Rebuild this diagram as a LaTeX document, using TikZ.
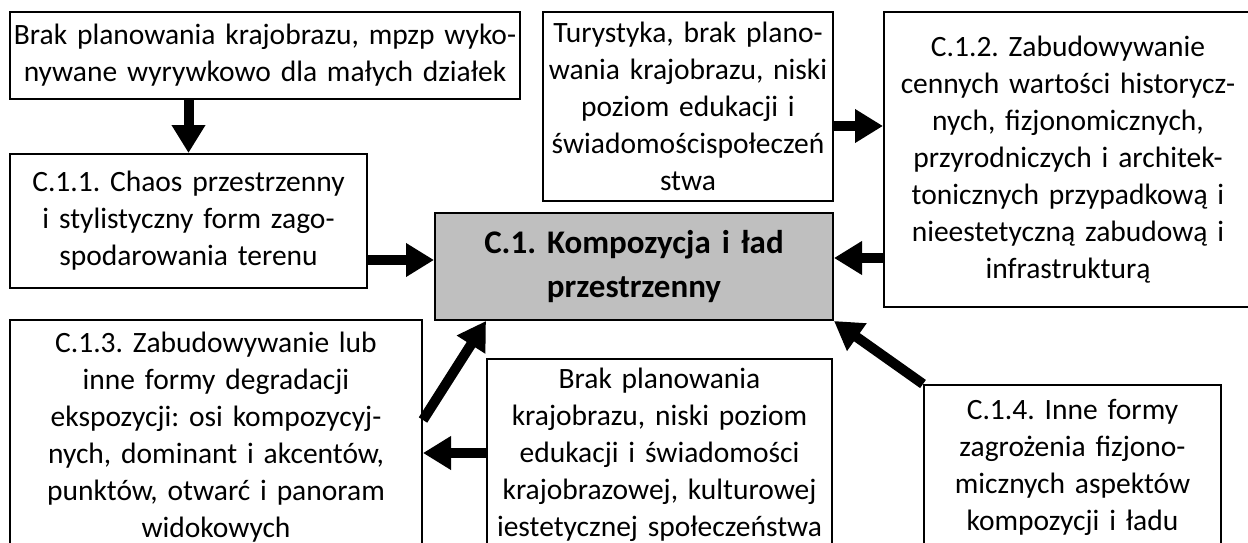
\documentclass[tikz,border=0pt]{standalone}
\usepackage{fontspec}
\setmainfont{Carlito}
\frenchspacing
\usetikzlibrary{arrows.meta}
\begin{document}
\begin{tikzpicture}[x=1pt,y=-1pt]
	\useasboundingbox (0,0) rectangle (1248,543);
	\tikzstyle{boite}=[draw,line width=2pt,inner sep=0pt,align=center,
		font=\fontsize{29.5}{37}\selectfont]
	\tikzstyle{fleche}=[-{Triangle[width=32pt,length=28pt]},line width=10pt]

	\node[boite,minimum width=510pt,minimum height=87pt,text width=508pt] (B) at (265,55.5)
		{Brak planowania krajobrazu, mpzp wyko-\\nywane wyrywkowo dla małych działek};
	\node[boite,minimum width=357pt,minimum height=134pt,text width=350pt] (C11) at (188.5,221)
		{C.1.1. Chaos przestrzenny\\i stylistyczny form zago-\\spodarowania terenu};
	\node[boite,minimum width=290pt,minimum height=189pt,text width=286pt] (T) at (688,106.5)
		{Turystyka, brak plano-\\wania krajobrazu, niski\\poziom edukacji i\\świadomościspołeczeń\\stwa};
	\node[boite,minimum width=368pt,minimum height=295pt,text width=364pt] (C12) at (1068,159.5)
		{C.1.2. Zabudowywanie\\cennych wartości historycz-\\nych, fizjonomicznych,\\przyrodniczych i architek-\\tonicznych przypadkową i\\nieestetyczną zabudową i\\infrastrukturą};
	\node[boite,fill=black!25,minimum width=398pt,minimum height=107pt,text width=390pt,
		font=\fontsize{33}{44}\selectfont\bfseries] (C1) at (634,266.5)
		{C.1. Kompozycja i ład\\przestrzenny};
	\node[boite,minimum width=412pt,minimum height=234pt,text width=408pt] (C13) at (216,437)
		{C.1.3. Zabudowywanie lub\\inne formy degradacji\\ekspozycji: osi kompozycyj-\\nych, dominant i akcentów,\\punktów, otwarć i panoram\\widokowych};
	\node[boite,minimum width=345pt,minimum height=192pt,text width=341pt] (B2) at (659.5,455)
		{Brak planowania\\krajobrazu, niski poziom\\edukacji i świadomości\\krajobrazowej, kulturowej\\iestetycznej społeczeństwa};
	\node[boite,minimum width=297pt,minimum height=164pt,text width=293pt] (C14) at (1072.5,467)
		{C.1.4. Inne formy\\zagrożenia fizjono-\\micznych aspektów\\kompozycji i ładu};

	\draw[fleche] (C11.north |- B.south) -- (C11.north);
	\draw[fleche] (C11.east |- 0,260) -- (C1.west |- 0,260);
	\draw[fleche] (T.east |- 0,126) -- (C12.west |- 0,126);
	\draw[fleche] (C12.west |- 0,258) -- (C1.east |- 0,258);
	\draw[fleche] (C13.east |- 0,420) -- (C1.south -| 486,0);
	\draw[fleche] (B2.west |- 0,453) -- (C13.east |- 0,453);
	\draw[fleche] (C14.north west) -- (C1.south east);
\end{tikzpicture}
\end{document}
